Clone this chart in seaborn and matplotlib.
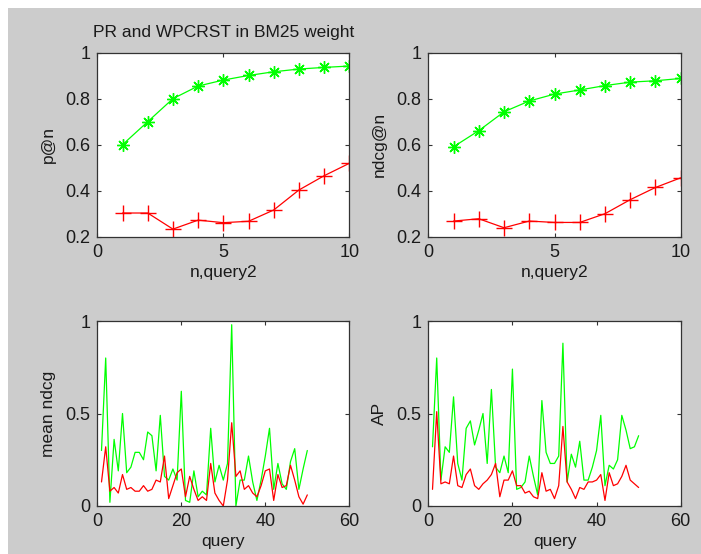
import matplotlib
matplotlib.use("Agg")
import matplotlib.pyplot as plt
import seaborn as sns

# top row: precision / ndcg at cutoff n
n = list(range(1, 11))
p_green = [0.60, 0.70, 0.80, 0.855, 0.881, 0.901, 0.917, 0.929, 0.936, 0.942]
p_red = [0.303, 0.303, 0.233, 0.272, 0.261, 0.267, 0.316, 0.403, 0.465, 0.519]
ndcg_green = [0.591, 0.661, 0.743, 0.790, 0.820, 0.838, 0.857, 0.872, 0.878, 0.888]
ndcg_red = [0.268, 0.278, 0.239, 0.268, 0.262, 0.262, 0.300, 0.361, 0.414, 0.456]

# bottom row: per query values
query = list(range(1, 51))
mndcg_green = [0.30, 0.80, 0.02, 0.36, 0.19, 0.50, 0.18, 0.21, 0.29, 0.29,
               0.25, 0.40, 0.38, 0.19, 0.49, 0.16, 0.14, 0.20, 0.14, 0.62,
               0.03, 0.02, 0.19, 0.05, 0.08, 0.06, 0.42, 0.13, 0.22, 0.14,
               0.23, 0.98, 0.00, 0.14, 0.14, 0.27, 0.13, 0.03, 0.14, 0.27,
               0.42, 0.09, 0.23, 0.12, 0.09, 0.24, 0.31, 0.09, 0.20, 0.30]
mndcg_red = [0.13, 0.32, 0.08, 0.10, 0.07, 0.17, 0.09, 0.10, 0.08, 0.08,
             0.11, 0.08, 0.09, 0.14, 0.13, 0.27, 0.04, 0.11, 0.18, 0.20,
             0.05, 0.16, 0.09, 0.03, 0.05, 0.03, 0.23, 0.07, 0.03, 0.00,
             0.14, 0.45, 0.16, 0.19, 0.09, 0.11, 0.07, 0.05, 0.11, 0.19,
             0.20, 0.03, 0.17, 0.10, 0.11, 0.22, 0.14, 0.05, 0.01, 0.06]
ap_green = [0.32, 0.80, 0.14, 0.32, 0.29, 0.59, 0.23, 0.14, 0.42, 0.46,
            0.33, 0.41, 0.50, 0.23, 0.63, 0.21, 0.18, 0.27, 0.18, 0.74,
            0.09, 0.10, 0.13, 0.27, 0.16, 0.06, 0.57, 0.29, 0.23, 0.23,
            0.27, 0.88, 0.13, 0.28, 0.21, 0.35, 0.14, 0.14, 0.21, 0.30,
            0.49, 0.11, 0.22, 0.20, 0.25, 0.49, 0.41, 0.31, 0.32, 0.38]
ap_red = [0.09, 0.51, 0.12, 0.13, 0.12, 0.27, 0.11, 0.10, 0.17, 0.20,
          0.11, 0.09, 0.12, 0.14, 0.17, 0.23, 0.05, 0.14, 0.14, 0.19,
          0.11, 0.11, 0.07, 0.08, 0.05, 0.04, 0.18, 0.08, 0.09, 0.04,
          0.11, 0.43, 0.13, 0.09, 0.04, 0.10, 0.09, 0.13, 0.13, 0.14,
          0.17, 0.03, 0.18, 0.11, 0.12, 0.16, 0.22, 0.14, 0.12, 0.10]

sns.set_style("ticks")
plt.rcParams["font.family"] = ["Liberation Sans", "DejaVu Sans"]

GREEN = "#00ff00"
RED = "#ff0000"
BG = "#cccccc"
TXT = "#1a1a1a"

fig = plt.figure(figsize=(7.01, 5.54), dpi=100)
fig.patch.set_facecolor(BG)

W, H = 701, 554
def box(l, t, r, b):
    return [l / W, (H - b) / H, (r - l) / W, (b - t) / H]

ax1 = fig.add_axes(box(97.3, 52.7, 349.3, 236.7))
ax2 = fig.add_axes(box(428.3, 52.7, 680.7, 236.7))
ax3 = fig.add_axes(box(97.3, 321, 349.3, 506))
ax4 = fig.add_axes(box(428.3, 321, 680.7, 506))

star = (8, 2, 0)
for ax, g, r, lab in [(ax1, p_green, p_red, "p@n"), (ax2, ndcg_green, ndcg_red, "ndcg@n")]:
    sns.lineplot(x=n, y=g, ax=ax, color=GREEN, lw=0.9, marker=star,
                 markersize=9, markeredgecolor=GREEN, markeredgewidth=1.0)
    sns.lineplot(x=n, y=r, ax=ax, color=RED, lw=0.9, marker="+",
                 markersize=11, markeredgecolor=RED, markeredgewidth=1.0)
    ax.set_xlim(0, 10)
    ax.set_ylim(0.2, 1)
    ax.set_xticks([0, 5, 10])
    ax.set_yticks([0.2, 0.4, 0.6, 0.8, 1.0])
    ax.set_yticklabels(["0.2", "0.4", "0.6", "0.8", "1"])
    ax.set_xlabel("n,query2", fontsize=12.5, labelpad=3, color=TXT)
    ax.set_ylabel(lab, fontsize=12.5, labelpad=7, color=TXT)

for ax, g, r, lab in [(ax3, mndcg_green, mndcg_red, "mean ndcg"), (ax4, ap_green, ap_red, "AP")]:
    sns.lineplot(x=query, y=g, ax=ax, color=GREEN, lw=0.9)
    sns.lineplot(x=query, y=r, ax=ax, color=RED, lw=0.9)
    ax.set_xlim(0, 60)
    ax.set_ylim(0, 1)
    ax.set_xticks([0, 20, 40, 60])
    ax.set_yticks([0, 0.5, 1.0])
    ax.set_yticklabels(["0", "0.5", "1"])
    ax.set_xlabel("query", fontsize=12.5, labelpad=3, color=TXT)
    ax.set_ylabel(lab, fontsize=12.5, labelpad=7, color=TXT)

for ax in [ax1, ax2, ax3, ax4]:
    ax.set_facecolor("white")
    for s in ax.spines.values():
        s.set_visible(True)
        s.set_color("#333333")
        s.set_linewidth(0.9)
    ax.tick_params(direction="in", length=3, width=0.8, top=True, right=True,
                   labelsize=13, colors="#333333", labelcolor=TXT, pad=5)

ax1.set_title("PR and WPCRST in BM25 weight", fontsize=12.5, pad=11, color=TXT)

# white strips along the top and left edge of the screenshot
fig.patches.append(plt.Rectangle((0, 1 - 8 / H), 1, 8 / H, transform=fig.transFigure,
                                 facecolor="white", edgecolor="none", zorder=-1))
fig.patches.append(plt.Rectangle((0, 0), 8 / W, 1, transform=fig.transFigure,
                                 facecolor="white", edgecolor="none", zorder=-1))

fig.savefig("out.png", dpi=100, facecolor=BG)
